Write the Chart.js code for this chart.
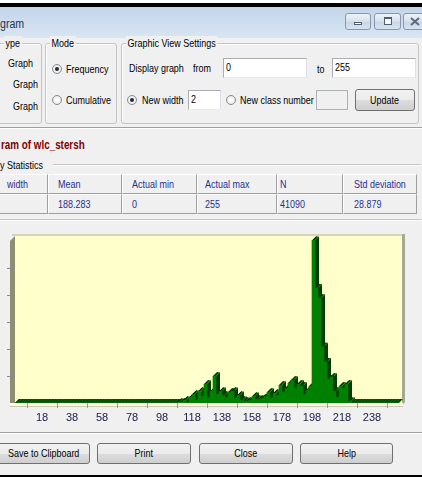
<!DOCTYPE html>
<html>
<head>
<meta charset="utf-8">
<script src="https://cdn.jsdelivr.net/npm/chart.js@4.4.1/dist/chart.umd.min.js"></script>
<style>
  html, body { margin:0; padding:0; }
  body { width:422px; height:477px; overflow:hidden; position:relative; background:#F0F0F0;
         font-family:"Liberation Sans",Arial,sans-serif; }
  .t { position:absolute; font-size:11.5px; line-height:14px; color:#000; white-space:nowrap;
       transform:scaleX(0.78); transform-origin:0 50%; }
  .g { position:absolute; border:1px solid #C4C4C4; border-radius:3px; box-shadow:1px 1px 0 #fff inset; }
  .lg { position:absolute; font-size:11.5px; line-height:14px; background:#F0F0F0; padding:0 2px; white-space:nowrap;
        transform:scaleX(0.78); transform-origin:0 50%; }
  .rad { position:absolute; width:8px; height:8px; border-radius:50%; border:1px solid #8A8A8A;
         background:radial-gradient(circle,#fff 0,#E4E4E4 100%); }
  .rad.on::after { content:""; position:absolute; left:2px; top:2px; width:4px; height:4px; border-radius:50%; background:#1C2C3C; }
  .inp { position:absolute; background:#fff; border:1px solid #ABADB3; border-bottom-color:#E3E9EF; border-right-color:#DBDFE6;
         box-sizing:border-box; font-size:11.5px; line-height:17px; padding-left:2px; white-space:nowrap; }
  .inp span, .btn span { display:inline-block; transform:scaleX(0.78); }
  .inp span { transform-origin:0 50%; }
  .btn { position:absolute; box-sizing:border-box; border:1px solid #707070; border-radius:3px; white-space:nowrap;
         background:linear-gradient(#F2F2F2 0%,#EBEBEB 50%,#DDDDDD 51%,#CFCFCF 100%);
         font-size:11.5px; text-align:center; }
  .sep { position:absolute; height:0; border-top:1px solid #A0A0A0; border-bottom:1px solid #FFFFFF; }
  .cell { position:absolute; box-sizing:border-box; border-top:1px solid #fff; border-left:1px solid #fff;
          border-right:1px solid #A0A0A0; border-bottom:1px solid #A0A0A0; }
  .ct { position:absolute; font-size:11.5px; line-height:14px; color:#1F3290; white-space:nowrap;
        transform:scaleX(0.78); transform-origin:0 50%; }
  .tb { position:absolute; top:13px; height:17px; box-sizing:border-box; border:1px solid #8797AD; border-radius:3px;
        background:linear-gradient(#EEF3F9,#D6E0EC 50%,#C9D6E6 51%,#D8E3F0); }
</style>
</head>
<body>
<!-- window frame / title bar -->
<div style="position:absolute;left:0;top:0;width:422px;height:3px;background:#fff"></div>
<div style="position:absolute;left:0;top:3px;width:422px;height:4px;background:#000"></div>
<div style="position:absolute;left:0;top:7px;width:422px;height:31px;background:linear-gradient(#C3D5EA,#D9E5F2)"></div>
<div class="t" style="left:0;top:17px;font-size:12.5px;color:#1E3554;transform:scaleX(0.85)">gram</div>
<div class="tb" style="left:345px;width:26px">
  <div style="position:absolute;left:8px;top:8px;width:8px;height:3px;border:1px solid #4F5E72;background:#fff;box-sizing:border-box"></div>
</div>
<div class="tb" style="left:374px;width:27px">
  <div style="position:absolute;left:9px;top:3px;width:8px;height:8px;border:1px solid #4F5E72;border-top-width:2px;background:#F5F8FC;box-sizing:border-box"></div>
</div>
<div class="tb" style="left:403px;width:26px">
  <svg style="position:absolute;left:6px;top:3px" width="10" height="9"><path d="M1 1 L9 8 M9 1 L1 8" stroke="#5A6A80" stroke-width="2"/></svg>
</div>

<!-- Type group (cut) -->
<div class="g" style="left:-5px;top:43px;width:45px;height:79px"></div>
<div class="lg" style="left:4px;top:36px">ype</div>
<div class="t" style="left:8px;top:56px">Graph</div>
<div class="t" style="left:13px;top:77px">Graph</div>
<div class="t" style="left:13px;top:99px">Graph</div>

<!-- Mode group -->
<div class="g" style="left:45px;top:43px;width:70px;height:79px"></div>
<div class="lg" style="left:50px;top:36px">Mode</div>
<div class="rad on" style="left:52px;top:64px"></div>
<div class="t" style="left:66px;top:62px">Frequency</div>
<div class="rad" style="left:52px;top:95px"></div>
<div class="t" style="left:66px;top:93px">Cumulative</div>

<!-- Graphic View Settings group -->
<div class="g" style="left:121px;top:43px;width:296px;height:79px"></div>
<div class="lg" style="left:126px;top:36px">Graphic View Settings</div>
<div class="t" style="left:129px;top:61px">Display graph</div>
<div class="t" style="left:193px;top:61px">from</div>
<div class="inp" style="left:223px;top:58px;width:84px;height:20px"><span>0</span></div>
<div class="t" style="left:317px;top:62px">to</div>
<div class="inp" style="left:332px;top:58px;width:84px;height:20px"><span>255</span></div>
<div class="rad on" style="left:127px;top:95px"></div>
<div class="t" style="left:142px;top:93px">New width</div>
<div class="inp" style="left:188px;top:90px;width:33px;height:20px"><span>2</span></div>
<div class="rad" style="left:226px;top:95px"></div>
<div class="t" style="left:240px;top:93px">New class number</div>
<div class="inp" style="left:316px;top:90px;width:32px;height:20px;background:#F0F0F0;border-color:#ADB2B5"></div>
<div class="btn" style="left:355px;top:89px;width:60px;height:22px;line-height:20px"><span>Update</span></div>

<div class="sep" style="left:0;top:127px;width:422px"></div>

<!-- title and statistics -->
<div class="t" style="left:1px;top:138px;font-weight:bold;font-size:12px;color:#800000;transform:scaleX(0.82)">ram of wlc_stersh</div>
<div class="t" style="left:0;top:158px">y Statistics</div>
<div class="sep" style="left:53px;top:164px;width:368px;border-top-color:#C4C4C4"></div>
<div id="table"></div>
<div class="sep" style="left:0;top:219px;width:421px;border-top-color:#C4C4C4"></div>

<!-- chart -->
<canvas id="c" width="422" height="200" style="position:absolute;left:0;top:228px;width:422px;height:200px"></canvas>

<div class="sep" style="left:0;top:432px;width:422px"></div>
<div class="btn" style="left:-3px;top:443px;width:93px;height:21px;line-height:19px"><span>Save to Clipboard</span></div>
<div class="btn" style="left:97px;top:443px;width:94px;height:21px;line-height:19px"><span>Print</span></div>
<div class="btn" style="left:199px;top:443px;width:94px;height:21px;line-height:19px"><span>Close</span></div>
<div class="btn" style="left:300px;top:443px;width:93px;height:21px;line-height:19px"><span>Help</span></div>
<div style="position:absolute;left:0;top:475px;width:422px;height:2px;background:#000"></div>

<script>
// ---------- data ----------
const binStarts = [0,2,4,6,8,10,12,14,16,18,20,22,24,26,28,30,32,34,36,38,40,42,44,46,48,50,52,54,56,58,60,62,64,66,68,70,72,74,76,78,80,82,84,86,88,90,92,94,96,98,100,102,104,106,108,110,112,114,116,118,120,122,124,126,128,130,132,134,136,138,140,142,144,146,148,150,152,154,156,158,160,162,164,166,168,170,172,174,176,178,180,182,184,186,188,190,192,194,196,198,200,202,204,206,208,210,212,214,216,218,220,222,224,226,228,230,232,234,236,238,240,242,244,246,248,250,252,254];
const frequencies = [
  0,0,0,0,0,0,0,0,0,0,
  0,0,0,0,0,0,0,0,0,0,
  0,0,0,0,0,0,0,0,0,0,
  0,0,0,0,0,0,0,0,0,0,
  0,0,0,0,0,0,0,0,0,0,
  0,0,0,0,
  20,20,95,20,205,320,95,430,245,695,205,430,
  995,320,430,280,205,395,430,170,280,95,55,55,
  95,245,130,130,170,245,395,170,355,280,660,395,
  545,735,845,545,695,620,320,470,620,
  6035,4270,3890,2085,1525,885,960,430,205,620,545,695,55,
  0,0,0,0,0,0,0,0,0,0,0,0,0,0,0,0
];
const binWidth = 2;
const xTickLabels = [18,38,58,78,98,118,138,158,178,198,218,238];
const yTickValues = [1000,2000,3000,4000,5000];
const statHeaders = ["width","Mean","Actual min","Actual max","N","Std deviation"];
const statValues  = ["","188.283","0","255","41090","28.879"];

// ---------- statistics table ----------
const colEdges = [-3,48,122,197,277,343,417];
const textX = [7,58,132,205,280,354];
const tbl = document.getElementById('table');
statHeaders.forEach((h,i)=>{
  [[174,h],[194,statValues[i]]].forEach(([top,txt])=>{
    const c = document.createElement('div');
    c.className='cell';
    c.style.left=colEdges[i]+'px'; c.style.top=top+'px';
    c.style.width=(colEdges[i+1]-colEdges[i])+'px'; c.style.height='20px';
    tbl.appendChild(c);
    const t = document.createElement('div');
    t.className='ct'; t.textContent=txt;
    t.style.left=textX[i]+'px'; t.style.top=(top+3)+'px';
    tbl.appendChild(t);
  });
});

// ---------- chart ----------
const D = 4;
const FRONT = '#008000', TOP = '#005A00', SIDE = '#003C00';
function poly(ctx, pts){ ctx.beginPath(); ctx.moveTo(pts[0][0],pts[0][1]); for(let i=1;i<pts.length;i++) ctx.lineTo(pts[i][0],pts[i][1]); ctx.closePath(); ctx.fill(); }

const threeD = {
  id:'threeD',
  beforeDraw(chart){
    const {ctx, chartArea:a} = chart;
    ctx.save();
    ctx.fillStyle = '#FFFFCC';
    ctx.fillRect(a.left, a.top - D, a.right - a.left + D, a.bottom - a.top + D);
    ctx.fillStyle = '#D4D4BE';
    ctx.fillRect(a.left - 3, a.top - D - 2, a.right - a.left + D + 4, 2);
    ctx.fillStyle = '#8E8E70';
    poly(ctx, [[a.left-5, a.top - D + 5],[a.left, a.top - D],[a.left, a.bottom],[a.left-5, a.bottom+2]]);
    ctx.fillStyle = '#A9A993';
    poly(ctx, [[a.right + D - 1, a.top - D - 2],[a.right + D + 2, a.top - D - 2],[a.right + D + 2, a.bottom - 1],[a.right + D - 1, a.bottom + 3]]);
    ctx.fillStyle = '#FFFFDD';
    ctx.fillRect(a.left - 5, a.bottom, a.right - a.left + D + 5, 3);
    ctx.fillStyle = '#C8C8B4';
    ctx.fillRect(a.left - 5, a.bottom + 3, a.right - a.left + D + 5, 1);
    ctx.restore();
  },
  beforeDatasetsDraw(chart){
    const ctx = chart.ctx;
    const meta = chart.getDatasetMeta(0);
    ctx.save();
    meta.data.forEach(bar=>{
      const p = bar.getProps(['x','y','base','width'], true);
      const L = p.x - p.width/2, R = p.x + p.width/2;
      ctx.fillStyle = SIDE;
      poly(ctx, [[R,p.y],[R+D,p.y-D],[R+D,p.base-D],[R,p.base]]);
      ctx.fillStyle = TOP;
      poly(ctx, [[L,p.y],[R,p.y],[R+D,p.y-D],[L+D,p.y-D]]);
      ctx.strokeStyle = '#002800'; ctx.lineWidth = 1;
      ctx.beginPath(); ctx.moveTo(L+0.5,p.y); ctx.lineTo(L+D+0.5,p.y-D); ctx.stroke();
    });
    ctx.restore();
  }
};

Chart.defaults.font.family = '"Liberation Sans",Arial,sans-serif';

new Chart(document.getElementById('c'), {
  type:'bar',
  data:{
    datasets:[{
      data: binStarts.map((s,i)=>({x: s + binWidth/2, y: frequencies[i]})),
      backgroundColor: FRONT,
      borderWidth: 0,
      barPercentage: 1,
      categoryPercentage: 1
    }]
  },
  options:{
    responsive:false,
    animation:false,
    devicePixelRatio:1,
    layout:{ padding:{ left:0, right:23, top:12, bottom:0 } },
    plugins:{ legend:{display:false}, tooltip:{enabled:false} },
    scales:{
      x:{
        type:'linear', min:0, max:256, offset:false,
        afterBuildTicks: s => { s.ticks = xTickLabels.map(v=>({value:v})); },
        afterFit: s => { s.height = 25; },
        border:{ display:false },
        grid:{ drawOnChartArea:false, drawTicks:true, tickLength:5, color:'#9A9A9A' },
        ticks:{ color:'#20204A', font:{ size:11 }, padding:3, maxRotation:0, autoSkip:false }
      },
      y:{
        min:0, max:6050,
        afterBuildTicks: s => { s.ticks = yTickValues.map(v=>({value:v})); },
        afterFit: s => { s.width = 15; },
        border:{ display:false },
        grid:{ drawOnChartArea:false, drawTicks:true, tickLength:8, color:'#8A8A8A' },
        ticks:{ display:false }
      }
    }
  },
  plugins:[threeD]
});
</script>
</body>
</html>
